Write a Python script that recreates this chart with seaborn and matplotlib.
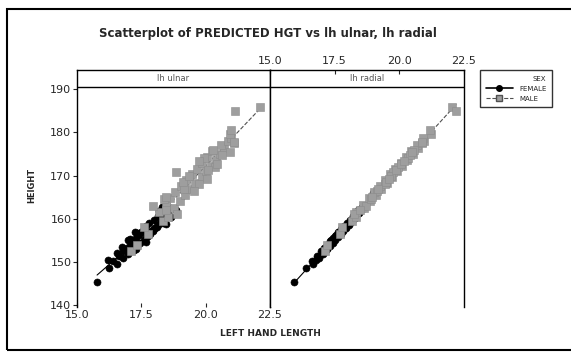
import numpy as np
import pandas as pd
import matplotlib
matplotlib.use('Agg')
import matplotlib.pyplot as plt
import seaborn as sns
from matplotlib.lines import Line2D

# predicted height per subject, with the two hand measurements it is plotted against
female_hgt = [145.2, 148.6, 149.5, 150.1, 150.8, 151.3, 151.9, 152.4, 152.8, 153.3,
              153.7, 154.0, 154.4, 154.8, 155.1, 155.5, 155.8, 156.2, 156.5, 156.9,
              157.2, 157.6, 157.9, 158.3, 158.6, 159.0, 159.4, 159.8, 160.2, 160.7,
              161.3, 162.1, 162.8, 155.0, 153.0, 157.0, 159.0, 156.0, 158.0, 162.5, 166.0,
              150.5, 152.0, 153.5, 155.3, 156.7, 158.8, 160.5, 161.8, 154.6, 157.4]
female_ulnar = [15.78, 16.25, 16.55, 16.40, 16.80, 16.62, 17.00, 16.80, 17.20, 16.95,
                17.35, 17.05, 17.45, 17.15, 17.60, 17.30, 17.70, 17.40, 17.85, 17.50,
                17.95, 17.60, 18.05, 17.70, 18.15, 17.80, 18.25, 18.00, 18.40, 18.15,
                18.55, 18.85, 18.30, 17.00, 17.30, 17.25, 18.35, 17.75, 18.10, 18.60, 19.20,
                16.20, 16.55, 16.75, 17.05, 17.35, 18.45, 18.65, 18.20, 17.70, 17.95]
female_radial = [15.93, 16.40, 16.68, 16.62, 16.88, 16.80, 17.05, 16.97, 17.18, 17.10,
                 17.32, 17.20, 17.42, 17.33, 17.52, 17.43, 17.62, 17.54, 17.74, 17.64,
                 17.84, 17.75, 17.94, 17.86, 18.05, 17.96, 18.17, 18.08, 18.28, 18.22,
                 18.44, 18.42, 18.55, 17.36, 17.20, 17.66, 18.10, 17.50, 17.92, 18.62, 19.00,
                 16.78, 17.00, 17.25, 17.48, 17.70, 18.02, 18.27, 18.48, 17.38, 17.80]

male_hgt = [152.5, 154.0, 156.5, 158.0, 159.5, 160.5, 161.5, 162.5, 163.2, 164.0,
            164.8, 165.5, 166.2, 167.0, 167.6, 168.3, 169.0, 169.7, 170.3, 171.0,
            171.6, 172.3, 173.0, 173.6, 174.3, 175.0, 175.7, 176.4, 177.2, 178.0,
            178.8, 179.7, 180.5, 185.8, 184.9, 177.5, 170.8, 163.0, 161.0, 168.0,
            172.0, 174.0, 166.5, 164.5,
            165.0, 166.8, 168.6, 170.0, 171.3, 172.7, 174.7, 176.0, 177.8, 162.0,
            169.3, 173.3, 175.4]
male_ulnar = [17.10, 17.35, 17.75, 17.60, 18.35, 18.55, 18.20, 18.75, 18.45, 19.00,
              18.60, 19.20, 18.80, 19.40, 19.05, 19.60, 19.25, 19.85, 19.45, 20.00,
              19.65, 20.20, 19.85, 20.40, 20.05, 20.55, 20.25, 20.70, 20.60, 20.85,
              21.00, 20.95, 21.00, 22.10, 21.15, 21.10, 18.85, 17.95, 18.90, 19.75,
              20.35, 19.95, 19.55, 18.40,
              18.45, 19.15, 19.10, 19.35, 20.10, 20.45, 20.65, 20.30, 21.10, 18.45,
              20.05, 19.75, 20.95]
male_radial = [17.12, 17.22, 17.72, 17.80, 18.18, 18.32, 18.33, 18.63, 18.58, 18.86,
               18.82, 19.09, 19.03, 19.31, 19.24, 19.51, 19.45, 19.72, 19.64, 19.92,
               19.84, 20.11, 20.05, 20.30, 20.25, 20.51, 20.45, 20.72, 20.68, 20.95,
               20.92, 21.22, 21.18, 22.05, 22.20, 20.88, 19.74, 18.70, 18.26, 19.44,
               19.93, 20.34, 19.12, 18.92,
               18.93, 19.18, 19.48, 19.69, 19.88, 20.08, 20.40, 20.58, 20.86, 18.47,
               19.59, 20.17, 20.48]

panels = ['lh ulnar', 'lh radial']
x_ticks = [15.0, 17.5, 20.0, 22.5]
y_ticks = [140, 150, 160, 170, 180, 190]

rows = []
for sex, hgt, uln, rad in [('FEMALE', female_hgt, female_ulnar, female_radial),
                           ('MALE', male_hgt, male_ulnar, male_radial)]:
    for h, u, r in zip(hgt, uln, rad):
        rows.append(dict(sex=sex, panel='lh ulnar', length=u, height=h))
        rows.append(dict(sex=sex, panel='lh radial', length=r, height=h))
df = pd.DataFrame(rows)

sns.set_style('white')
plt.rcParams['font.family'] = ['DejaVu Sans']

style = {
    'FEMALE': dict(marker='o', color='black', ec='black', s=26, ls='-', lc='black'),
    'MALE': dict(marker='s', color='#9e9e9e', ec='#8c8c8c', s=34, ls='--', lc='#505050'),
}

W, H = 571, 354
fig = plt.figure(figsize=(W / 100, H / 100), dpi=100)
ax1 = fig.add_axes([77 / W, 1 - 307 / H, 193 / W, 237 / H])
ax2 = fig.add_axes([270 / W, 1 - 307 / H, 194 / W, 237 / H], sharey=ax1)

ylim = (139.5, 194.5)
for ax, panel in zip([ax1, ax2], panels):
    sub = df[df.panel == panel]
    for sex, st in style.items():
        d = sub[sub.sex == sex]
        sns.regplot(data=d, x='length', y='height', ax=ax, scatter=False, ci=None,
                    truncate=True, line_kws=dict(color=st['lc'], lw=0.8, ls=st['ls'], zorder=1))
        sns.scatterplot(data=d, x='length', y='height', ax=ax, marker=st['marker'],
                        color=st['color'], edgecolor=st['ec'], linewidth=0.4,
                        s=st['s'], zorder=2, legend=False)
    ax.set_xlim(15.0, 22.5)
    ax.set_ylim(*ylim)
    ax.axhline(190.5, color='black', lw=1)
    ax.text(18.75, 192.5, panel, ha='center', va='center', fontsize=6, color='#555555')
    ax.set_xlabel('')
    ax.set_ylabel('')
    for side in ['left', 'right', 'top']:
        ax.spines[side].set_visible(True)
        ax.spines[side].set_color('black')
        ax.spines[side].set_linewidth(1)
    ax.spines['bottom'].set_visible(False)
    ax.set_xticks(x_ticks)
    ax.set_xticklabels([f'{t:.1f}' for t in x_ticks], fontsize=8)

ax1.set_yticks(y_ticks)
ax1.set_yticklabels([str(t) for t in y_ticks], fontsize=8)
ax1.tick_params(axis='y', left=True, direction='out', length=3, width=0.8, pad=1)
ax1.tick_params(axis='x', bottom=True, direction='in', length=3, width=0.8, pad=2)
ax2.tick_params(axis='y', left=False, labelleft=False)
ax2.xaxis.tick_top()
ax2.tick_params(axis='x', top=True, direction='in', length=3, width=0.8, pad=3)

fig.text(268 / W, 1 - 34 / H, 'Scatterplot of PREDICTED HGT vs lh ulnar, lh radial',
         ha='center', va='center', fontsize=8.5, fontweight='bold')
fig.text(32 / W, 1 - 185 / H, 'HEIGHT', rotation=90, ha='center', va='center',
         fontsize=6, fontweight='bold')
fig.text(270 / W, 1 - 334 / H, 'LEFT HAND LENGTH', ha='center', va='center',
         fontsize=6.5, fontweight='bold')

handles = [Line2D([], [], color='black', lw=1.2, ls='-', marker='o', markersize=4),
           Line2D([], [], color='#505050', lw=0.8, ls='--', marker='s', markersize=4,
                  markerfacecolor='#9e9e9e', markeredgecolor='#505050')]
leg = fig.legend(handles, ['FEMALE', 'MALE'], title='SEX', loc='upper left',
                 bbox_to_anchor=(480 / W, 1 - 70 / H), fontsize=5, title_fontsize=5,
                 frameon=True, fancybox=False, edgecolor='black', borderaxespad=0,
                 handlelength=4, borderpad=0.8, labelspacing=0.6, alignment='right')
leg.get_frame().set_linewidth(1)

fig.add_artist(plt.Rectangle((7 / W, 4 / H), 1.0, (350 - 9) / H, transform=fig.transFigure,
                             fill=False, lw=1.5, ec='black'))

fig.savefig('out.png', dpi=100)
